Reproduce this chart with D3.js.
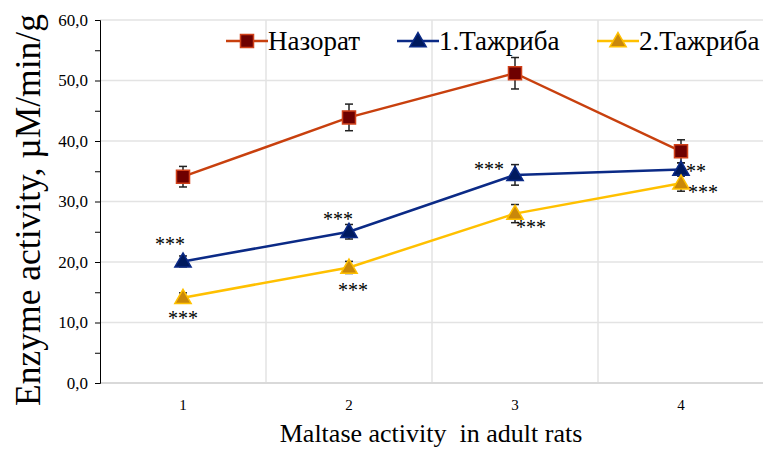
<!DOCTYPE html>
<html>
<head>
<meta charset="utf-8">
<script src="https://cdn.jsdelivr.net/npm/d3@7/dist/d3.min.js"></script>
<style>
  html, body { margin: 0; padding: 0; background: #fff; }
  svg { display: block; }
</style>
</head>
<body>
<svg id="chart" width="763" height="450"></svg>
<script>
// Maltase activity (µM/min/g) in adult rats, four measurement points
const categories = ["1", "2", "3", "4"];
const seriesNames = ["Назорат", "1.Тажриба", "2.Тажриба"];

const controlValues = [34.1, 43.9, 51.2, 38.3];
const controlErrors = [1.7, 2.2, 2.6, 1.9];

const exp1Values = [20.1, 25.0, 34.4, 35.3];
const exp1Errors = [0.9, 1.2, 1.7, 1.1];

const exp2Values = [14.1, 19.1, 28.0, 33.0];
const exp2Errors = [0.8, 1.0, 1.5, 1.3];

// significance marks next to the experimental points
const exp1Marks = ["***", "***", "***", "**"];
const exp2Marks = ["***", "***", "***", "***"];

const yTicks = [0, 10, 20, 30, 40, 50, 60];
const yMinorTicks = [0, 5, 10, 15, 20, 25, 30, 35, 40, 45, 50, 55, 60];

const xTitle = "Maltase activity  in adult rats";
const yTitle = "Enzyme activity, µM/min/g";

const FONT = "'Liberation Serif', 'Times New Roman', 'DejaVu Serif', serif";

const svg = d3.select("#chart");

const plot = { left: 100, right: 764, top: 20, bottom: 383 };

const x = d3.scaleBand().domain(categories).range([plot.left, plot.right]);
const y = d3.scaleLinear().domain([0, 60]).range([plot.bottom, plot.top]);
const cx = c => x(c) + x.bandwidth() / 2;

// horizontal gridlines
svg.append("g")
  .selectAll("line")
  .data(yTicks)
  .join("line")
  .attr("x1", plot.left).attr("x2", plot.right)
  .attr("y1", d => y(d)).attr("y2", d => y(d))
  .attr("stroke", "#e3e3e3").attr("stroke-width", 1.5);

// vertical gridlines at category boundaries
svg.append("g")
  .selectAll("line")
  .data(categories.slice(1))
  .join("line")
  .attr("x1", d => x(d)).attr("x2", d => x(d))
  .attr("y1", plot.top).attr("y2", plot.bottom)
  .attr("stroke", "#e3e3e3").attr("stroke-width", 1.5);

// x axis baseline
svg.append("line")
  .attr("x1", plot.left).attr("x2", plot.right)
  .attr("y1", y(0)).attr("y2", y(0))
  .attr("stroke", "#d9d9d9").attr("stroke-width", 2);

// y axis with minor ticks every 5 and labels every 10
const yAxis = svg.append("g")
  .attr("transform", `translate(${plot.left},0)`)
  .call(d3.axisLeft(y).tickValues(yMinorTicks).tickSize(5)
    .tickFormat(d => d % 10 === 0 ? d3.format(".1f")(d).replace(".", ",") : ""));
yAxis.attr("font-family", FONT).attr("font-size", 17);
yAxis.select(".domain").attr("stroke", "#000").attr("stroke-width", 1);
yAxis.selectAll(".tick line").attr("stroke", "#000");
yAxis.selectAll(".tick text")
  .attr("x", -12)
  .attr("fill", "#000");

// x tick labels
svg.append("g")
  .selectAll("text")
  .data(categories)
  .join("text")
  .attr("x", d => cx(d))
  .attr("y", 410)
  .attr("text-anchor", "middle")
  .attr("font-family", FONT)
  .attr("font-size", 15)
  .text(d => d);

// axis titles
svg.append("text")
  .attr("x", 431).attr("y", 442)
  .attr("text-anchor", "middle")
  .attr("font-family", FONT)
  .attr("font-size", 26)
  .attr("xml:space", "preserve")
  .style("white-space", "pre")
  .text(xTitle);

svg.append("text")
  .attr("transform", "translate(40,210) rotate(-90)")
  .attr("text-anchor", "middle")
  .attr("font-family", FONT)
  .attr("font-size", 35.5)
  .text(yTitle);

const series = [
  { name: seriesNames[0], values: controlValues, errors: controlErrors,
    line: "#C8400E", fill: "#6E0000", stroke: "#D0401A", shape: "square", marks: null },
  { name: seriesNames[1], values: exp1Values, errors: exp1Errors,
    line: "#0B2A86", fill: "#001A5E", stroke: "#0B2A86", shape: "triangle", marks: exp1Marks },
  { name: seriesNames[2], values: exp2Values, errors: exp2Errors,
    line: "#FFC000", fill: "#C9880A", stroke: "#FFC000", shape: "triangle", marks: exp2Marks }
];

// placement of the significance marks around each point (dx, dy in px)
const markOffsets = [
  null,
  [[-13, -20], [-11, -16], [-26, -9], [15, -1]],
  [[0, 17], [4, 20], [16, 10], [22, 6]]
];

const lineGen = d3.line().x(d => cx(d.c)).y(d => y(d.v));

const symbolFor = s => s.shape === "square"
  ? d3.symbol().type(d3.symbolSquare).size(170)
  : d3.symbol().type(d3.symbolTriangle).size(115);

// lines
series.forEach(s => {
  const pts = categories.map((c, i) => ({ c, v: s.values[i] }));
  svg.append("path")
    .datum(pts)
    .attr("d", lineGen)
    .attr("fill", "none")
    .attr("stroke", s.line)
    .attr("stroke-width", 2.5);
});

// error bars
series.forEach(s => {
  const g = svg.append("g").attr("stroke", "#222").attr("stroke-width", 1.5);
  categories.forEach((c, i) => {
    const v = s.values[i], e = s.errors[i], px = cx(c);
    g.append("line").attr("x1", px).attr("x2", px).attr("y1", y(v - e)).attr("y2", y(v + e));
    g.append("line").attr("x1", px - 4).attr("x2", px + 4).attr("y1", y(v - e)).attr("y2", y(v - e));
    g.append("line").attr("x1", px - 4).attr("x2", px + 4).attr("y1", y(v + e)).attr("y2", y(v + e));
  });
});

// markers
series.forEach(s => {
  svg.append("g")
    .selectAll("path")
    .data(categories.map((c, i) => ({ c, v: s.values[i] })))
    .join("path")
    .attr("transform", d => `translate(${cx(d.c)},${y(d.v) + (s.shape === "triangle" ? 1 : 0)})`)
    .attr("d", symbolFor(s))
    .attr("fill", s.fill)
    .attr("stroke", s.stroke)
    .attr("stroke-width", 1.5);
});

// significance marks
series.forEach((s, si) => {
  if (!s.marks) return;
  s.marks.forEach((m, i) => {
    const [dx, dy] = markOffsets[si][i];
    svg.append("text")
      .attr("x", cx(categories[i]) + dx)
      .attr("y", y(s.values[i]) + dy + 10)
      .attr("text-anchor", "middle")
      .attr("font-family", FONT)
      .attr("font-size", 20)
      .text(m);
  });
});

// legend
const legendItems = [
  { s: series[0], x0: 226 },
  { s: series[1], x0: 397 },
  { s: series[2], x0: 597 }
];
const ly = 41;
legendItems.forEach(({ s, x0 }) => {
  const g = svg.append("g");
  g.append("line")
    .attr("x1", x0).attr("x2", x0 + 42)
    .attr("y1", ly).attr("y2", ly)
    .attr("stroke", s.line).attr("stroke-width", 2.5);
  g.append("path")
    .attr("transform", `translate(${x0 + 21},${ly + (s.shape === "triangle" ? 1 : 0)})`)
    .attr("d", symbolFor(s))
    .attr("fill", s.fill)
    .attr("stroke", s.stroke)
    .attr("stroke-width", 1.5);
  g.append("text")
    .attr("x", x0 + 42)
    .attr("y", ly + 9)
    .attr("font-family", FONT)
    .attr("font-size", 27)
    .text(s.name);
});
</script>
</body>
</html>
